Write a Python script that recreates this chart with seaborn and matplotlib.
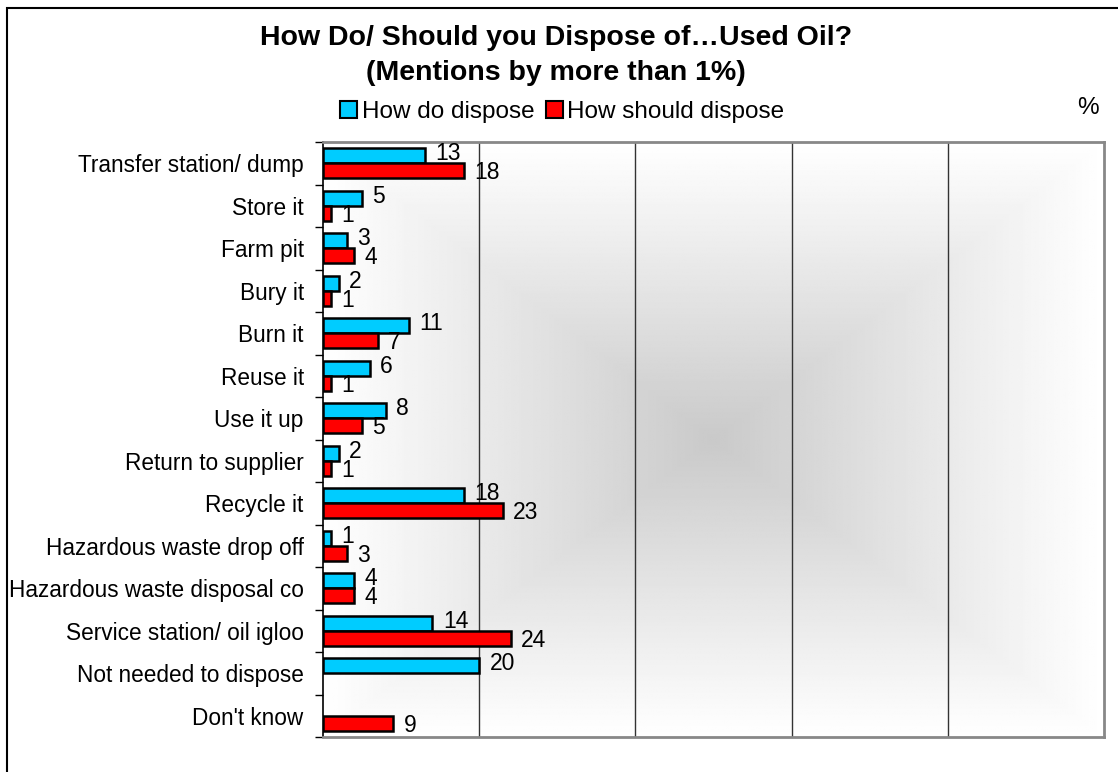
import numpy as np
import pandas as pd
import seaborn as sns
import matplotlib.pyplot as plt
from matplotlib.patches import Rectangle

sns.set_theme(style="white")
plt.rcParams['font.family'] = ['Liberation Sans', 'DejaVu Sans']
plt.rcParams['text.color'] = 'black'
plt.rcParams['ytick.color'] = 'black'
plt.rcParams['ytick.labelcolor'] = 'black'

categories = ["Transfer station/ dump", "Store it", "Farm pit", "Bury it", "Burn it",
              "Reuse it", "Use it up", "Return to supplier", "Recycle it",
              "Hazardous waste drop off", "Hazardous waste disposal co",
              "Service station/ oil igloo", "Not needed to dispose", "Don't know"]
how_do = [13, 5, 3, 2, 11, 6, 8, 2, 18, 1, 4, 14, 20, np.nan]
how_should = [18, 1, 4, 1, 7, 1, 5, 1, 23, 3, 4, 24, np.nan, 9]
series = ["How do dispose", "How should dispose"]
colors = ["#00CCFF", "#FF0000"]

df = pd.concat([
    pd.DataFrame({"cat": categories, "val": how_do, "series": series[0]}),
    pd.DataFrame({"cat": categories, "val": how_should, "series": series[1]}),
], ignore_index=True)

fig = plt.figure(figsize=(11.18, 7.72), dpi=100)
ax = fig.add_axes([0.289, 0.0453, 0.6985, 0.7707])

# grey "from centre" gradient behind the bars
gx, gy = np.meshgrid(np.linspace(-1, 1, 400), np.linspace(-1, 1, 400))
shade = np.maximum(np.abs(gx), np.abs(gy))
ax.imshow(0.79 + 0.21 * shade, cmap="gray", vmin=0, vmax=1, extent=[0, 100, 13.5, -0.5],
          aspect="auto", zorder=0, interpolation="bilinear")

sns.barplot(data=df, y="cat", x="val", hue="series", order=categories,
            hue_order=series, palette=colors, orient="h", width=0.7,
            edgecolor="black", linewidth=1.8, saturation=1, ax=ax, zorder=3)

# blue labels sit a little high, red a little low
for cont, dy in zip(ax.containers, [1.5, -1.5]):
    for t in ax.bar_label(cont, fmt="%g", fontsize=16.5, zorder=5):
        t.xyann = (7.5, dy)

ax.set_xlim(0, 100)
ax.set_ylim(13.5, -0.5)
ax.set_xticks([20, 40, 60, 80])
ax.set_xticklabels([])
ax.tick_params(axis="x", length=0)
ax.grid(axis="x", color="#333333", linewidth=1)
ax.set_axisbelow(True)
ax.set_xlabel("")
ax.set_ylabel("")
ax.tick_params(axis="y", which="major", length=0, labelsize=16.3, pad=14)
ax.set_yticks(np.arange(-0.5, 14, 1), minor=True)
ax.tick_params(axis="y", which="minor", length=6, width=1, color="black", direction="out", left=True)
for s in ["top", "right", "bottom"]:
    ax.spines[s].set_color("#888888")
    ax.spines[s].set_linewidth(2)
ax.spines["left"].set_color("black")
ax.spines["left"].set_linewidth(1.2)

ax.get_legend().remove()
handles = [Rectangle((0, 0), 1, 1, facecolor=c, edgecolor="black", linewidth=1.5) for c in colors]
fig.legend(handles, series, loc="center", bbox_to_anchor=(0.503, 0.855), ncol=2,
           frameon=False, fontsize=17.5, handlelength=0.7, handleheight=0.7,
           handletextpad=0.2, columnspacing=0.45)

fig.text(0.497, 0.951, "How Do/ Should you Dispose of\u2026Used Oil?", ha="center",
         va="center", fontsize=20.5, fontweight="bold")
fig.text(0.497, 0.905, "(Mentions by more than 1%)", ha="center", va="center",
         fontsize=20.5, fontweight="bold")
fig.text(0.973, 0.86, "%", ha="center", va="center", fontsize=17.5)

fig.patches.append(Rectangle((0.0063, -0.01), 1.0, 1.0, transform=fig.transFigure,
                             fill=False, edgecolor="black", linewidth=1.5))

fig.savefig("out.png", dpi=100)
